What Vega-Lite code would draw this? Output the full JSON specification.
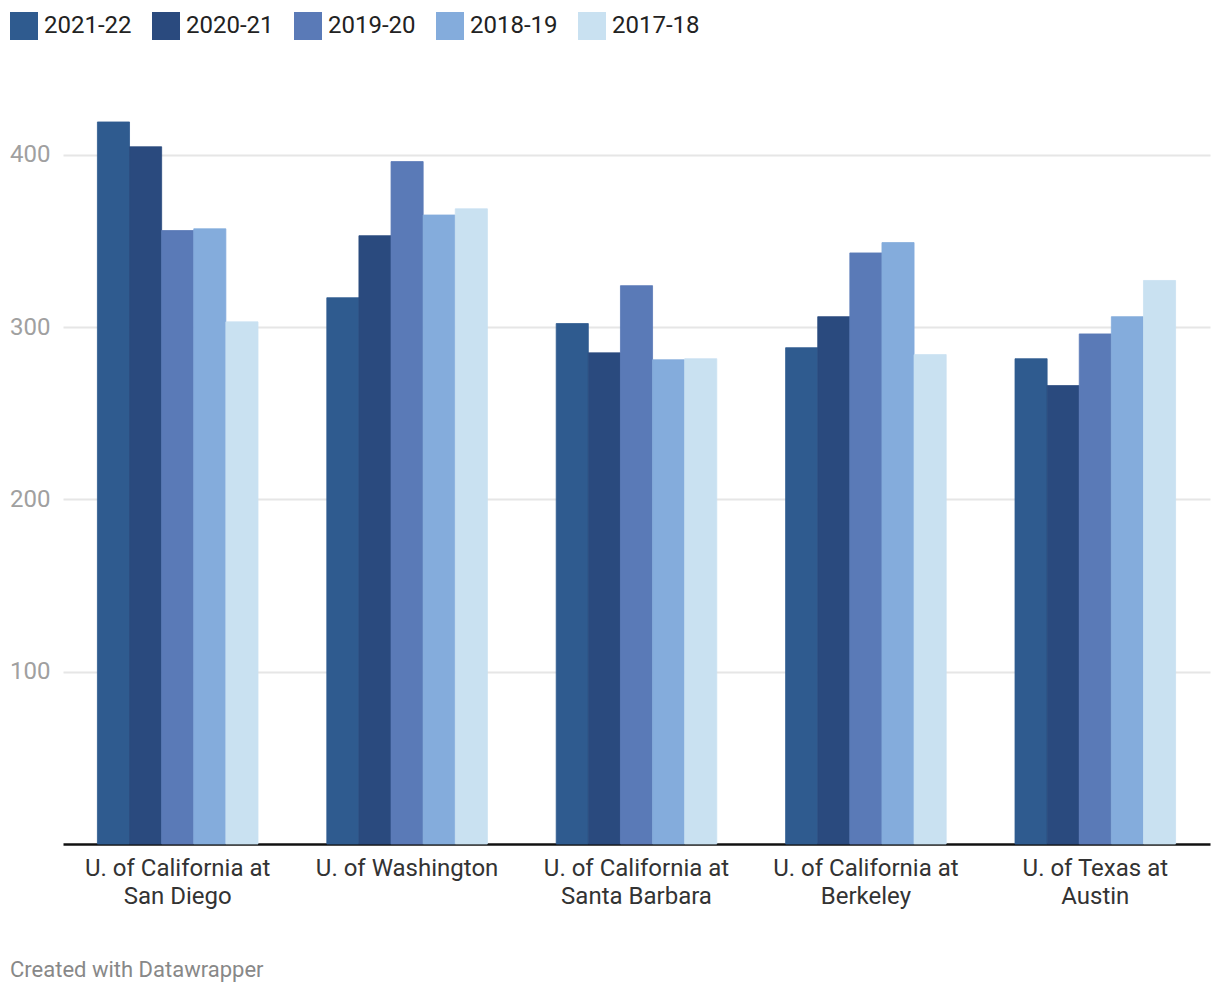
{
  "$schema": "https://vega.github.io/schema/vega-lite/v6.json",
  "width": 1147,
  "height": 741,
  "autosize": "none",
  "padding": {"left": 63, "top": 103, "right": 10, "bottom": 150},
  "background": "white",
  "config": {
    "font": "Roboto",
    "view": {"stroke": null}
  },
  "title": {
    "text": "Created with Datawrapper",
    "orient": "bottom",
    "anchor": "start",
    "frame": "group",
    "fontSize": 22,
    "fontWeight": "normal",
    "color": "#888888",
    "font": "Roboto",
    "dx": -53,
    "offset": 52
  },
  "data": {
    "values": [
      {"school": "U. of California at San Diego", "year": "2021-22", "value": 419},
      {"school": "U. of California at San Diego", "year": "2020-21", "value": 404.6},
      {"school": "U. of California at San Diego", "year": "2019-20", "value": 356},
      {"school": "U. of California at San Diego", "year": "2018-19", "value": 357},
      {"school": "U. of California at San Diego", "year": "2017-18", "value": 303},
      {"school": "U. of Washington", "year": "2021-22", "value": 317},
      {"school": "U. of Washington", "year": "2020-21", "value": 353},
      {"school": "U. of Washington", "year": "2019-20", "value": 396},
      {"school": "U. of Washington", "year": "2018-19", "value": 365},
      {"school": "U. of Washington", "year": "2017-18", "value": 368.6},
      {"school": "U. of California at Santa Barbara", "year": "2021-22", "value": 302},
      {"school": "U. of California at Santa Barbara", "year": "2020-21", "value": 285},
      {"school": "U. of California at Santa Barbara", "year": "2019-20", "value": 324},
      {"school": "U. of California at Santa Barbara", "year": "2018-19", "value": 281},
      {"school": "U. of California at Santa Barbara", "year": "2017-18", "value": 281.6},
      {"school": "U. of California at Berkeley", "year": "2021-22", "value": 288},
      {"school": "U. of California at Berkeley", "year": "2020-21", "value": 306},
      {"school": "U. of California at Berkeley", "year": "2019-20", "value": 343},
      {"school": "U. of California at Berkeley", "year": "2018-19", "value": 349},
      {"school": "U. of California at Berkeley", "year": "2017-18", "value": 284},
      {"school": "U. of Texas at Austin", "year": "2021-22", "value": 281.6},
      {"school": "U. of Texas at Austin", "year": "2020-21", "value": 266},
      {"school": "U. of Texas at Austin", "year": "2019-20", "value": 296},
      {"school": "U. of Texas at Austin", "year": "2018-19", "value": 306},
      {"school": "U. of Texas at Austin", "year": "2017-18", "value": 327}
    ]
  },
  "mark": {"type": "bar", "strokeWidth": 0.8},
  "encoding": {
    "x": {
      "field": "school",
      "type": "nominal",
      "sort": null,
      "title": null,
      "scale": {"paddingInner": 0.3, "paddingOuter": 0.15},
      "axis": {
        "labelAngle": 0,
        "labelFontSize": 24,
        "labelColor": "#333333",
        "labelFont": "Roboto",
        "labelPadding": 12,
        "labelLineHeight": 28,
        "labelBaseline": "top",
        "labelExpr": "indexof(datum.label, ' at ') > 0 ? [substring(datum.label, 0, indexof(datum.label, ' at ') + 3), substring(datum.label, indexof(datum.label, ' at ') + 4)] : datum.label",
        "labelLimit": 300,
        "ticks": false,
        "domain": true,
        "domainColor": "#111111",
        "domainWidth": 2.5,
        "grid": false
      }
    },
    "xOffset": {
      "field": "year",
      "type": "nominal",
      "sort": ["2021-22", "2020-21", "2019-20", "2018-19", "2017-18"],
      "scale": {"paddingInner": 0, "paddingOuter": 0}
    },
    "y": {
      "field": "value",
      "type": "quantitative",
      "title": null,
      "scale": {"domain": [0, 430], "nice": false},
      "axis": {
        "values": [100, 200, 300, 400],
        "labelFontSize": 24,
        "labelColor": "#a0a0a0",
        "labelFont": "Roboto",
        "labelPadding": 13,
        "ticks": false,
        "domain": false,
        "gridColor": "#e6e6e6",
        "gridWidth": 2
      }
    },
    "color": {
      "field": "year",
      "type": "nominal",
      "scale": {
        "domain": ["2021-22", "2020-21", "2019-20", "2018-19", "2017-18"],
        "range": ["#2f5b8f", "#2a4a7e", "#5a7ab7", "#84acdc", "#c9e1f1"]
      },
      "legend": {
        "title": null,
        "orient": "none",
        "direction": "horizontal",
        "legendX": -53,
        "legendY": -91,
        "symbolType": "square",
        "symbolSize": 784,
        "symbolStrokeWidth": 0,
        "symbolOpacity": 1,
        "labelFontSize": 24,
        "labelColor": "#222222",
        "labelFont": "Roboto",
        "labelOffset": 6,
        "columnPadding": 20,
        "labelLimit": 200
      }
    },
    "stroke": {
      "field": "year",
      "type": "nominal",
      "scale": {
        "domain": ["2021-22", "2020-21", "2019-20", "2018-19", "2017-18"],
        "range": ["#2f5b8f", "#2a4a7e", "#5a7ab7", "#84acdc", "#c9e1f1"]
      },
      "legend": null
    }
  }
}
